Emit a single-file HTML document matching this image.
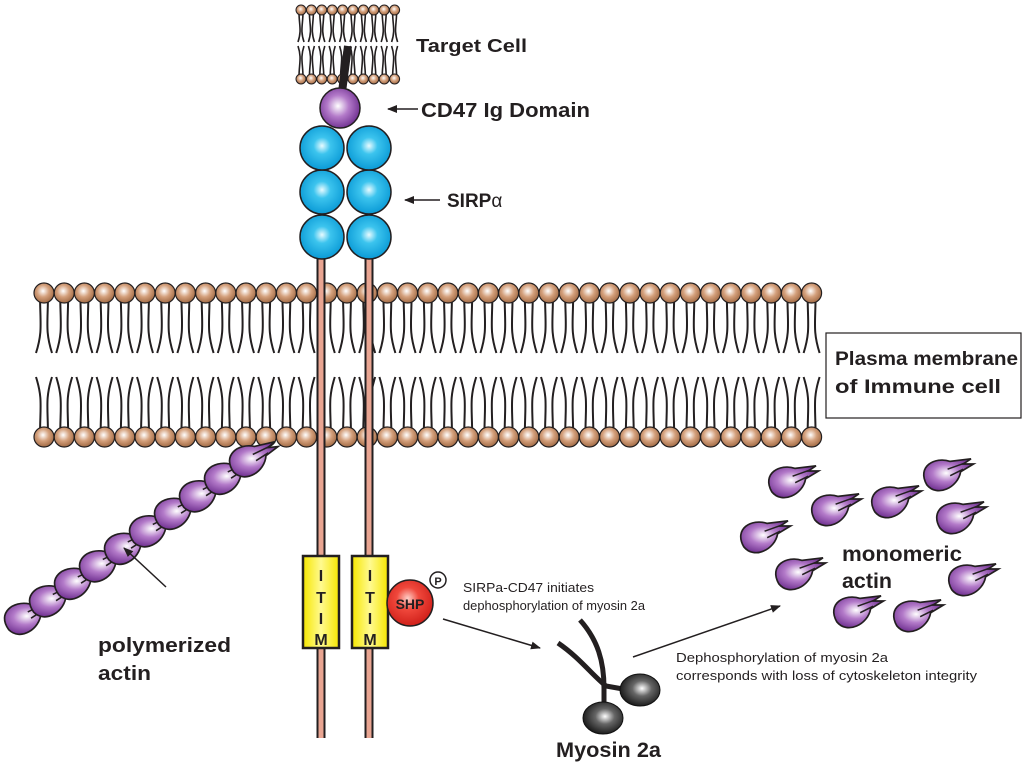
<!DOCTYPE html>
<html><head><meta charset="utf-8"><style>
html,body{margin:0;padding:0;background:#fff;}
svg{display:block;}
text{font-family:"Liberation Sans",sans-serif;fill:#231f20;}
.b{font-weight:bold;}
</style></head><body>
<svg id="s" width="1024" height="771" viewBox="0 0 1024 771" xmlns="http://www.w3.org/2000/svg">
<defs>
<radialGradient id="hd" cx="0.45" cy="0.4" r="0.6"><stop offset="0" stop-color="#fff"/><stop offset="0.5" stop-color="#d4a07c"/><stop offset="1" stop-color="#a26b45"/></radialGradient>
<radialGradient id="pu" cx="0.45" cy="0.45" r="0.6"><stop offset="0" stop-color="#fff"/><stop offset="0.45" stop-color="#b37ac9"/><stop offset="1" stop-color="#6a2a8c"/></radialGradient>
<radialGradient id="bl" cx="0.5" cy="0.45" r="0.55"><stop offset="0" stop-color="#e8fbff"/><stop offset="0.35" stop-color="#3cc4ee"/><stop offset="1" stop-color="#0a9ad6"/></radialGradient>
<radialGradient id="rd" cx="0.45" cy="0.4" r="0.6"><stop offset="0" stop-color="#ffd0c8"/><stop offset="0.4" stop-color="#f0483c"/><stop offset="1" stop-color="#d0201a"/></radialGradient>
<radialGradient id="bk" cx="0.55" cy="0.45" r="0.6"><stop offset="0" stop-color="#fff"/><stop offset="0.4" stop-color="#666"/><stop offset="1" stop-color="#111"/></radialGradient>
<linearGradient id="yl" x1="0" x2="1"><stop offset="0" stop-color="#f6e600"/><stop offset="0.5" stop-color="#fffa90"/><stop offset="1" stop-color="#f6e600"/></linearGradient>
<g id="mono">
<path d="M-14,6 C-22,-8 -8,-16 4,-12 L20,-14 L14,-10 L22,-10 L12,-4 C10,8 -6,16 -14,6 Z" fill="url(#pu)" stroke="#231f20" stroke-width="1.3"/>
<path d="M2,-6 L16,-11 M4,-1 L14,-6" stroke="#231f20" stroke-width="1.2" fill="none"/>
</g>
<marker id="ar" markerWidth="10" markerHeight="8" refX="9" refY="4" orient="auto" markerUnits="userSpaceOnUse"><path d="M0,0 L10,4 L0,8 Z" fill="#231f20"/></marker>
</defs>
<g id="lip"></g>
<line x1="348" y1="46" x2="342" y2="92" stroke="#231f20" stroke-width="8"/>
<circle cx="340" cy="108" r="20" fill="url(#pu)" stroke="#231f20" stroke-width="1.5"/>
<g stroke="#231f20" stroke-width="9"><line x1="321" y1="258" x2="321" y2="738"/><line x1="369" y1="258" x2="369" y2="738"/></g>
<g stroke="#e9a592" stroke-width="5"><line x1="321" y1="258" x2="321" y2="738"/><line x1="369" y1="258" x2="369" y2="738"/></g>
<g fill="url(#bl)" stroke="#231f20" stroke-width="1.5">
<circle cx="322" cy="237" r="22"/><circle cx="369" cy="237" r="22"/>
<circle cx="322" cy="192" r="22"/><circle cx="369" cy="192" r="22"/>
<circle cx="322" cy="148" r="22"/><circle cx="369" cy="148" r="22"/>
</g>
<rect x="303" y="556" width="36" height="92" fill="url(#yl)" stroke="#231f20" stroke-width="2.5"/>
<rect x="352" y="556" width="36" height="92" fill="url(#yl)" stroke="#231f20" stroke-width="2.5"/>
<g font-size="16" text-anchor="middle">
<text x="321" y="581" class="b">I</text><text x="321" y="603" class="b">T</text><text x="321" y="624" class="b">I</text><text x="321" y="645" class="b">M</text>
<text x="370" y="581" class="b">I</text><text x="370" y="603" class="b">T</text><text x="370" y="624" class="b">I</text><text x="370" y="645" class="b">M</text>
</g>
<circle cx="410" cy="603" r="23" fill="url(#rd)" stroke="#231f20" stroke-width="1.5"/>
<text x="410" y="609" font-size="14" text-anchor="middle" class="b">SHP</text>
<circle cx="438" cy="580" r="8" fill="#fff" stroke="#231f20" stroke-width="1.5"/>
<text x="438" y="585" font-size="11" text-anchor="middle" class="b">P</text>
<path d="M558,643 C580,658 592,675 606,686 L640,692" stroke="#231f20" stroke-width="5" fill="none"/>
<path d="M580,620 C598,640 604,662 604,688 L604,712" stroke="#231f20" stroke-width="5" fill="none"/>
<ellipse cx="640" cy="690" rx="20" ry="16" fill="url(#bk)" stroke="#111" stroke-width="1"/>
<ellipse cx="603" cy="718" rx="20" ry="16" fill="url(#bk)" stroke="#111" stroke-width="1"/>
<g id="act"></g>
<text x="416" y="52" font-size="18" class="b" textLength="111" lengthAdjust="spacingAndGlyphs">Target Cell</text>
<line x1="418" y1="109" x2="388" y2="109" stroke="#231f20" stroke-width="1.5" marker-end="url(#ar)"/>
<text x="421" y="117" font-size="20" class="b" textLength="169" lengthAdjust="spacingAndGlyphs">CD47 Ig Domain</text>
<line x1="440" y1="200" x2="405" y2="200" stroke="#231f20" stroke-width="1.5" marker-end="url(#ar)"/>
<text x="447" y="207" font-size="19" class="b">SIRP<tspan font-weight="normal">α</tspan></text>
<rect x="826" y="333" width="195" height="85" fill="#fff" stroke="#231f20" stroke-width="1.2"/>
<text x="835" y="365" font-size="19" class="b" textLength="183" lengthAdjust="spacingAndGlyphs">Plasma membrane</text>
<text x="835" y="393" font-size="19" class="b" textLength="166" lengthAdjust="spacingAndGlyphs">of Immune cell</text>
<line x1="166" y1="587" x2="124" y2="548" stroke="#231f20" stroke-width="1.5" marker-end="url(#ar)"/>
<text x="98" y="652" font-size="20" class="b" textLength="133" lengthAdjust="spacingAndGlyphs">polymerized</text>
<text x="98" y="680" font-size="20" class="b" textLength="53" lengthAdjust="spacingAndGlyphs">actin</text>
<text x="463" y="592" font-size="13" textLength="131" lengthAdjust="spacingAndGlyphs">SIRPa-CD47 initiates</text>
<text x="463" y="610" font-size="13" textLength="182" lengthAdjust="spacingAndGlyphs">dephosphorylation of myosin 2a</text>
<line x1="443" y1="619" x2="540" y2="648" stroke="#231f20" stroke-width="1.5" marker-end="url(#ar)"/>
<text x="556" y="757" font-size="21" class="b" textLength="105" lengthAdjust="spacingAndGlyphs">Myosin 2a</text>
<line x1="633" y1="657" x2="780" y2="606" stroke="#231f20" stroke-width="1.5" marker-end="url(#ar)"/>
<text x="676" y="662" font-size="13" textLength="212" lengthAdjust="spacingAndGlyphs">Dephosphorylation of myosin 2a</text>
<text x="676" y="680" font-size="13" textLength="301" lengthAdjust="spacingAndGlyphs">corresponds with loss of cytoskeleton integrity</text>
<text x="842" y="561" font-size="21" class="b" textLength="120" lengthAdjust="spacingAndGlyphs">monomeric</text>
<text x="842" y="588" font-size="21" class="b" textLength="50" lengthAdjust="spacingAndGlyphs">actin</text>
</svg>
<script>
var lip=document.getElementById("lip"),h="";
function leaflet(xs,yt,yb,r){var s="";
 xs.forEach(function(x){
  s+='<path d="M'+(x-4)+','+yt+' C'+(x-4)+','+(yt+30)+' '+(x-1)+','+(yt+38)+' '+(x-8)+','+(yt+60)+' M'+(x+4)+','+yt+' C'+(x+4)+','+(yt+30)+' '+(x+1)+','+(yt+38)+' '+(x+8)+','+(yt+60)+'" stroke="#231f20" stroke-width="2" fill="none"/>';
  s+='<path d="M'+(x-4)+','+yb+' C'+(x-4)+','+(yb-30)+' '+(x-1)+','+(yb-38)+' '+(x-8)+','+(yb-60)+' M'+(x+4)+','+yb+' C'+(x+4)+','+(yb-30)+' '+(x+1)+','+(yb-38)+' '+(x+8)+','+(yb-60)+'" stroke="#231f20" stroke-width="2" fill="none"/>';
 });
 xs.forEach(function(x){s+='<circle cx="'+x+'" cy="'+yt+'" r="'+r+'" fill="url(#hd)" stroke="#231f20" stroke-width="1.2"/><circle cx="'+x+'" cy="'+yb+'" r="'+r+'" fill="url(#hd)" stroke="#231f20" stroke-width="1.2"/>';});
 return s;}
var xs=[];for(var i=0;i<39;i++)xs.push(44+i*20.2);
h+=leaflet(xs,293,437,10);
var xt=[];for(i=0;i<10;i++)xt.push(301+i*10.4);
var t="";xt.forEach(function(x){t+='<path d="M'+(x-2)+',12 C'+(x-2)+',25 '+(x+1)+',30 '+(x-3)+',42 M'+(x+2)+',12 C'+(x+2)+',25 '+(x-1)+',30 '+(x+3)+',42 M'+(x-2)+',77 C'+(x-2)+',64 '+(x+1)+',58 '+(x-3)+',46 M'+(x+2)+',77 C'+(x+2)+',64 '+(x-1)+',58 '+(x+3)+',46" stroke="#231f20" stroke-width="1.6" fill="none"/>';});
xt.forEach(function(x){t+='<circle cx="'+x+'" cy="10" r="5" fill="url(#hd)" stroke="#231f20" stroke-width="1"/><circle cx="'+x+'" cy="79" r="5" fill="url(#hd)" stroke="#231f20" stroke-width="1"/>';});
lip.innerHTML=h+t;
var a="";
for(i=0;i<10;i++){var x=26+i*25,y=620-i*17.5;a+='<use href="#mono" transform="translate('+x+','+y+') rotate(-6) scale(1.3)"/>';}
[[790,484],[833,512],[893,504],[945,477],[762,539],[958,520],[797,576],[970,582],[855,614],[915,618]].forEach(function(p){a+='<use href="#mono" transform="translate('+p[0]+','+p[1]+') scale(1.3)"/>';});
document.getElementById("act").innerHTML=a;
</script>
</body></html>
